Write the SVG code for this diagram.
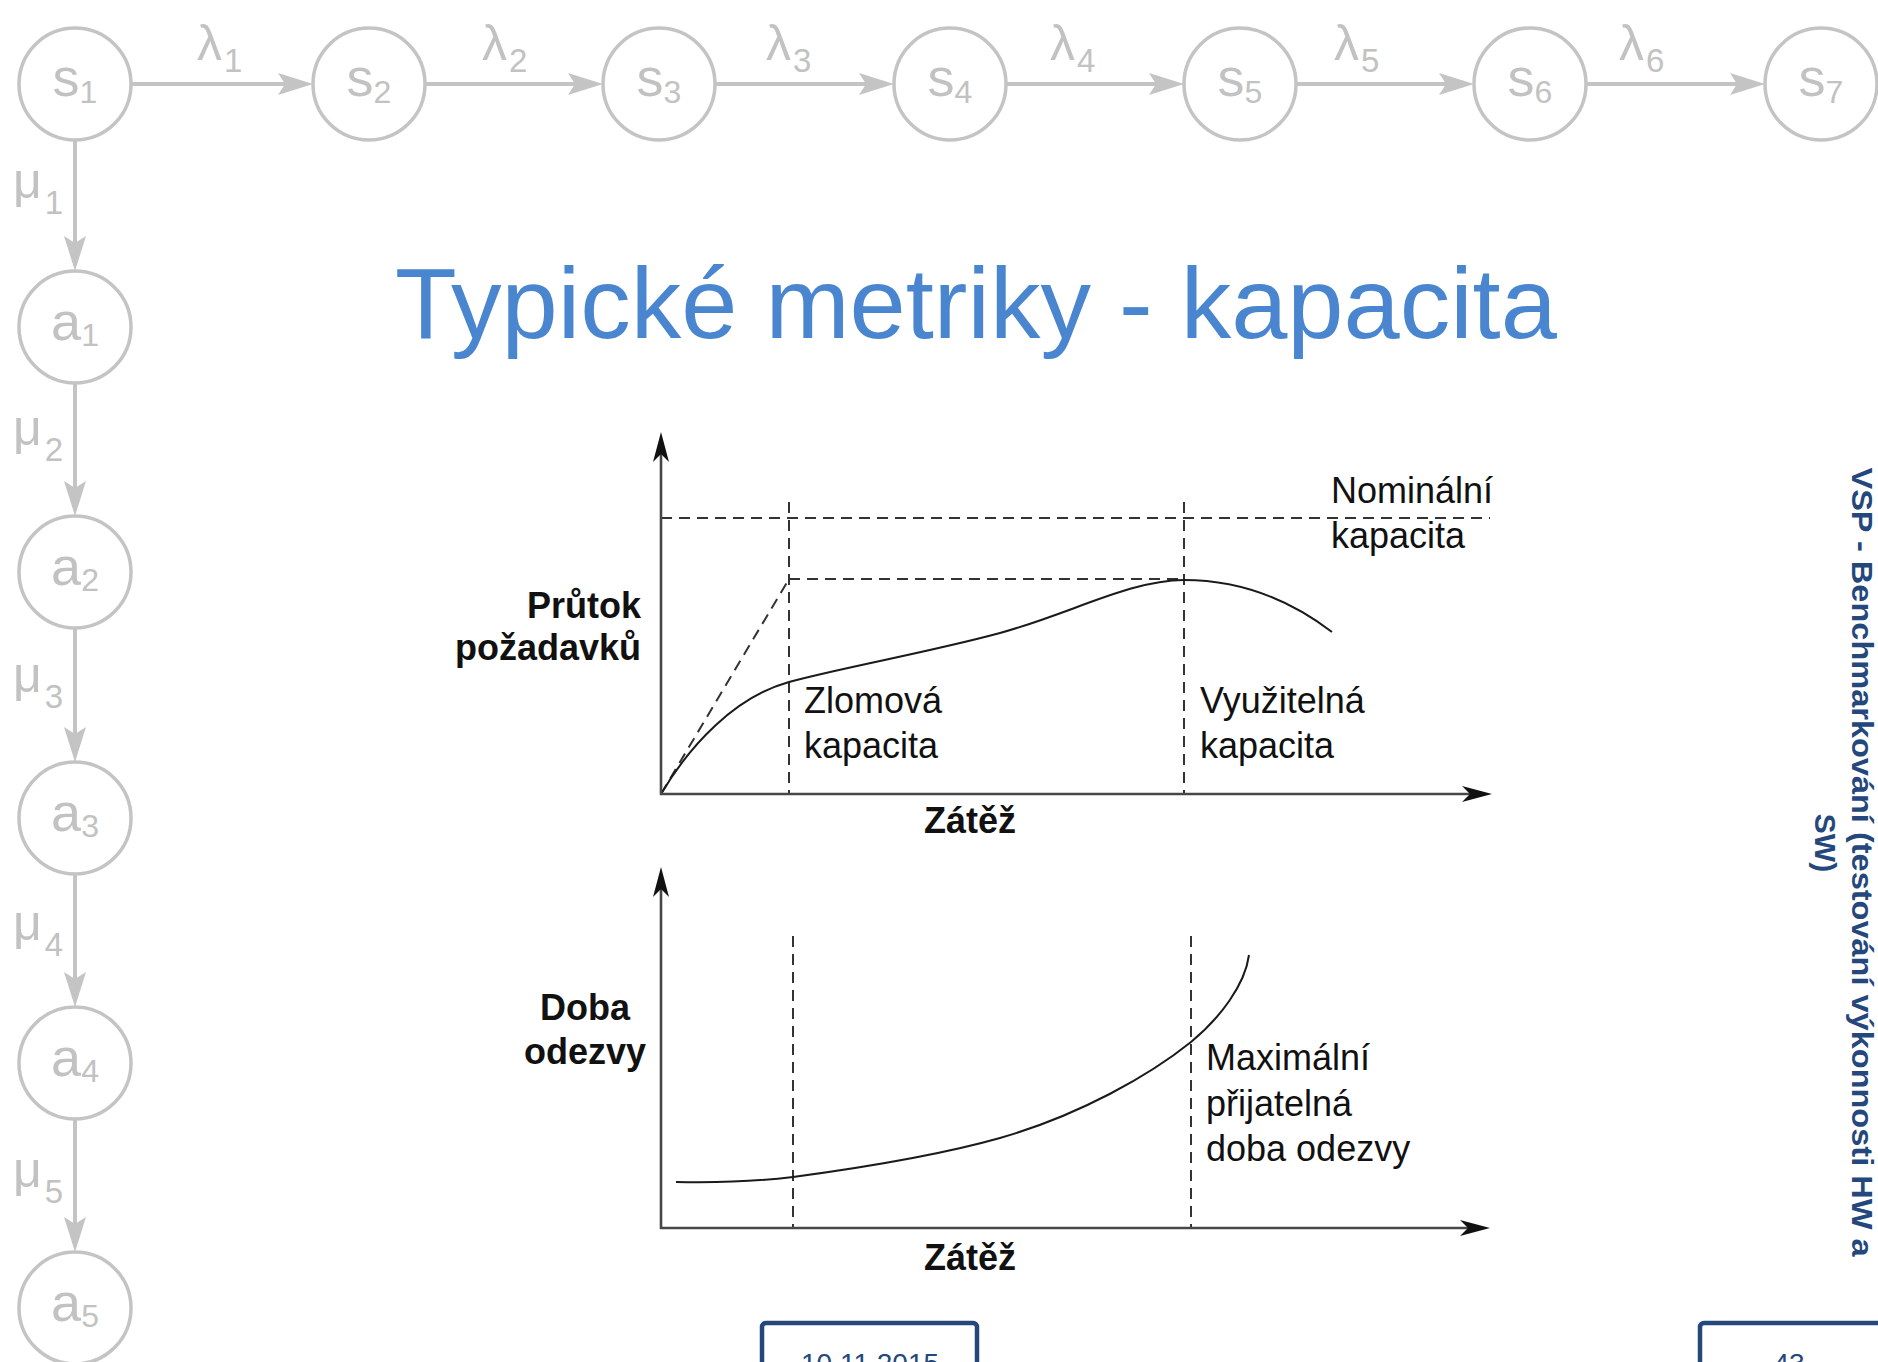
<svg xmlns="http://www.w3.org/2000/svg" width="1878" height="1362" viewBox="0 0 1878 1362">
<style>
.st{fill:#fff;stroke:#c4c4c4;stroke-width:3.5}
.cn{stroke:#c4c4c4;stroke-width:4;fill:none}
.nl{font-family:"Liberation Sans",Arial,sans-serif;font-size:54px;fill:#c2c2c2;text-anchor:middle}
.sub{font-size:32px}
.gl{font-family:"Liberation Sans",Arial,sans-serif;font-size:50px;fill:#c2c2c2}
.gsub{font-size:33px}
.ax{stroke:#474747;stroke-width:2.6;fill:none}
.da{stroke:#333;stroke-width:2;stroke-dasharray:11 7;fill:none}
.cu{stroke:#1a1a1a;stroke-width:2;fill:none}
.cl{font-family:"Liberation Sans",Arial,sans-serif;font-size:36px;fill:#111}
.b{font-weight:bold}
.title{font-family:"Liberation Sans",Arial,sans-serif;font-size:101px;fill:#4a86d0}
.side{font-family:"Liberation Sans",Arial,sans-serif;font-size:30px;font-weight:bold;fill:#24487c;text-anchor:middle}
.box{fill:#fff;stroke:#24487c;stroke-width:4.5}
.ft{font-family:"Liberation Sans",Arial,sans-serif;font-size:28px;fill:#24487c;text-anchor:middle}
</style>
<defs>
<marker id="ga" markerUnits="userSpaceOnUse" viewBox="-8 -12 37 24" markerWidth="37" markerHeight="24" refX="0" refY="0" orient="auto">
<path d="M28,0 L-7,-11 L0,0 L-7,11 Z" fill="#c4c4c4"/>
</marker>
<marker id="ka" markerUnits="userSpaceOnUse" viewBox="-9 -9 32 18" markerWidth="32" markerHeight="18" refX="0" refY="0" orient="auto">
<path d="M22,0 L-8,-8 L0,0 L-8,8 Z" fill="#111"/>
</marker>
</defs>
<rect width="1878" height="1362" fill="#fff"/>

<g id="connectors">
<line class="cn" x1="131" y1="84" x2="285" y2="84" marker-end="url(#ga)"/>
<line class="cn" x1="425" y1="84" x2="575" y2="84" marker-end="url(#ga)"/>
<line class="cn" x1="715" y1="84" x2="866" y2="84" marker-end="url(#ga)"/>
<line class="cn" x1="1006" y1="84" x2="1156" y2="84" marker-end="url(#ga)"/>
<line class="cn" x1="1296" y1="84" x2="1446" y2="84" marker-end="url(#ga)"/>
<line class="cn" x1="1586" y1="84" x2="1737" y2="84" marker-end="url(#ga)"/>
<line class="cn" x1="75" y1="140" x2="75" y2="243" marker-end="url(#ga)"/>
<line class="cn" x1="75" y1="383" x2="75" y2="488" marker-end="url(#ga)"/>
<line class="cn" x1="75" y1="628" x2="75" y2="734" marker-end="url(#ga)"/>
<line class="cn" x1="75" y1="874" x2="75" y2="979" marker-end="url(#ga)"/>
<line class="cn" x1="75" y1="1119" x2="75" y2="1224" marker-end="url(#ga)"/>
<text class="gl" x="197" y="60">λ<tspan class="gsub" dx="2" dy="12">1</tspan></text>
<text class="gl" x="482" y="60">λ<tspan class="gsub" dx="2" dy="12">2</tspan></text>
<text class="gl" x="766" y="60">λ<tspan class="gsub" dx="2" dy="12">3</tspan></text>
<text class="gl" x="1050" y="60">λ<tspan class="gsub" dx="2" dy="12">4</tspan></text>
<text class="gl" x="1334" y="60">λ<tspan class="gsub" dx="2" dy="12">5</tspan></text>
<text class="gl" x="1619" y="60">λ<tspan class="gsub" dx="2" dy="12">6</tspan></text>
<text class="gl" x="13" y="198">μ<tspan class="gsub" dx="3" dy="16">1</tspan></text>
<text class="gl" x="13" y="445">μ<tspan class="gsub" dx="3" dy="16">2</tspan></text>
<text class="gl" x="13" y="692">μ<tspan class="gsub" dx="3" dy="16">3</tspan></text>
<text class="gl" x="13" y="940">μ<tspan class="gsub" dx="3" dy="16">4</tspan></text>
<text class="gl" x="13" y="1187">μ<tspan class="gsub" dx="3" dy="16">5</tspan></text>
</g>

<g id="s1"><circle class="st" cx="75" cy="84" r="56"/><text class="nl" x="75" y="96">s<tspan class="sub" dy="7">1</tspan></text></g>
<g id="s2"><circle class="st" cx="369" cy="84" r="56"/><text class="nl" x="369" y="96">s<tspan class="sub" dy="7">2</tspan></text></g>
<g id="s3"><circle class="st" cx="659" cy="84" r="56"/><text class="nl" x="659" y="96">s<tspan class="sub" dy="7">3</tspan></text></g>
<g id="s4"><circle class="st" cx="950" cy="84" r="56"/><text class="nl" x="950" y="96">s<tspan class="sub" dy="7">4</tspan></text></g>
<g id="s5"><circle class="st" cx="1240" cy="84" r="56"/><text class="nl" x="1240" y="96">s<tspan class="sub" dy="7">5</tspan></text></g>
<g id="s6"><circle class="st" cx="1530" cy="84" r="56"/><text class="nl" x="1530" y="96">s<tspan class="sub" dy="7">6</tspan></text></g>
<g id="s7"><circle class="st" cx="1821" cy="84" r="56"/><text class="nl" x="1821" y="96">s<tspan class="sub" dy="7">7</tspan></text></g>
<g id="a1"><circle class="st" cx="75" cy="327" r="56"/><text class="nl" x="75" y="340">a<tspan class="sub" dy="6">1</tspan></text></g>
<g id="a2"><circle class="st" cx="75" cy="572" r="56"/><text class="nl" x="75" y="585">a<tspan class="sub" dy="6">2</tspan></text></g>
<g id="a3"><circle class="st" cx="75" cy="818" r="56"/><text class="nl" x="75" y="831">a<tspan class="sub" dy="6">3</tspan></text></g>
<g id="a4"><circle class="st" cx="75" cy="1063" r="56"/><text class="nl" x="75" y="1076">a<tspan class="sub" dy="6">4</tspan></text></g>
<g id="a5"><circle class="st" cx="75" cy="1308" r="56"/><text class="nl" x="75" y="1321">a<tspan class="sub" dy="6">5</tspan></text></g>

<g id="title"><text class="title" x="395" y="338">Typické metriky - kapacita</text></g>

<g id="chart-throughput">
<line class="da" x1="661" y1="518" x2="1490" y2="518"/>
<line class="da" x1="789" y1="502" x2="789" y2="794"/>
<line class="da" x1="1184" y1="502" x2="1184" y2="794"/>
<line class="da" x1="789" y1="579" x2="1184" y2="579"/>
<line class="da" x1="661" y1="794" x2="789" y2="579"/>
<path class="cu" d="M661,794 C690,745 735,697 789,682 C840,668 930,652 1000,633 C1070,614 1130,580 1184,580 C1240,580 1290,600 1332,632"/>
<line class="ax" x1="661" y1="795" x2="661" y2="454" marker-end="url(#ka)"/>
<line class="ax" x1="660" y1="794" x2="1470" y2="794" marker-end="url(#ka)"/>
<text class="cl b" x="641" y="618" text-anchor="end">Průtok</text>
<text class="cl b" x="641" y="660" text-anchor="end">požadavků</text>
<text class="cl" x="804" y="713">Zlomová</text>
<text class="cl" x="804" y="758">kapacita</text>
<text class="cl" x="1200" y="713">Využitelná</text>
<text class="cl" x="1200" y="758">kapacita</text>
<text class="cl" x="1331" y="503">Nominální</text>
<text class="cl" x="1331" y="548">kapacita</text>
<text class="cl b" x="970" y="833" text-anchor="middle">Zátěž</text>
</g>

<g id="chart-response">
<line class="da" x1="793" y1="936" x2="793" y2="1228"/>
<line class="da" x1="1191" y1="936" x2="1191" y2="1228"/>
<path class="cu" d="M676,1182 C720,1183 760,1181 793,1177 C860,1168 940,1155 1000,1138 C1080,1115 1150,1075 1191,1042 C1220,1018 1245,985 1249,955"/>
<line class="ax" x1="661" y1="1229" x2="661" y2="889" marker-end="url(#ka)"/>
<line class="ax" x1="660" y1="1228" x2="1468" y2="1228" marker-end="url(#ka)"/>
<text class="cl b" x="585" y="1020" text-anchor="middle">Doba</text>
<text class="cl b" x="585" y="1064" text-anchor="middle">odezvy</text>
<text class="cl" x="1206" y="1070">Maximální</text>
<text class="cl" x="1206" y="1116">přijatelná</text>
<text class="cl" x="1206" y="1161">doba odezvy</text>
<text class="cl b" x="970" y="1270" text-anchor="middle">Zátěž</text>
</g>

<g id="side-title">
<text class="side" transform="translate(1852,862) rotate(90)" textLength="789" lengthAdjust="spacingAndGlyphs">VSP - Benchmarkování (testování výkonnosti HW a</text>
<text class="side" transform="translate(1815,843) rotate(90)">SW)</text>
</g>

<g id="date-box"><rect class="box" x="762" y="1323" width="215" height="60" rx="4"/><text class="ft" x="870" y="1373">10.11.2015</text></g>
<g id="page-box"><rect class="box" x="1700" y="1323" width="182" height="60" rx="4"/><text class="ft" x="1789" y="1373">43</text></g>
</svg>
